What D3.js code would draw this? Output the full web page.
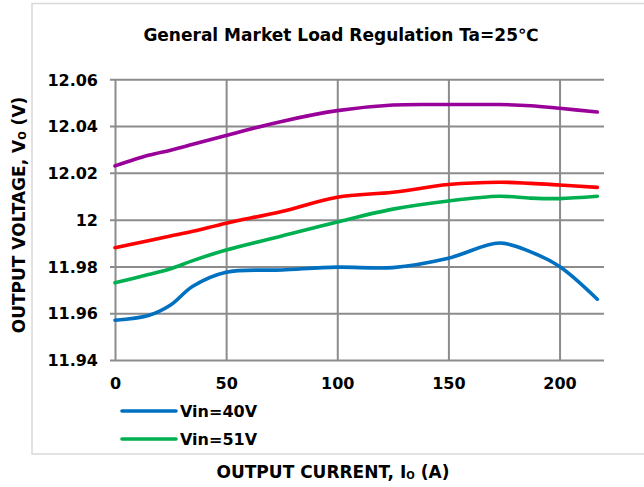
<!DOCTYPE html>
<html>
<head>
<meta charset="utf-8">
<script src="https://cdn.jsdelivr.net/npm/d3@7"></script>
<style>
  body { margin: 0; background: #fff; }
  svg text { font-family: "DejaVu Sans", sans-serif; font-weight: bold; fill: #000; }
</style>
</head>
<body>
<script>
// load regulation readings, output current in A
const currents = [0, 15, 25, 35, 50, 75, 100, 125, 150, 173, 187, 200, 217];

const vin40 = [11.957, 11.959, 11.9635, 11.9715, 11.9775, 11.9785, 11.9797, 11.9795, 11.9835, 11.990, 11.9862, 11.980, 11.966];
const vin51 = [11.973, 11.9765, 11.979, 11.9825, 11.987, 11.993, 11.999, 12.0045, 12.008, 12.010, 12.0092, 12.009, 12.010];
const vinC = [11.988, 11.991, 11.993, 11.995, 11.9985, 12.0035, 12.0096, 12.0117, 12.015, 12.016, 12.0155, 12.0148, 12.0138];
const vinD = [12.023, 12.0275, 12.0297, 12.0322, 12.036, 12.042, 12.0466, 12.049, 12.0492, 12.0492, 12.0487, 12.0476, 12.046];

const xTicks = [0, 50, 100, 150, 200];
const yTicks = [11.94, 11.96, 11.98, 12, 12.02, 12.04, 12.06];

const series = [
  { name: "Vin=40V", values: vin40, color: "#0070c0", legend: true },
  { name: "Vin=51V", values: vin51, color: "#00b050", legend: true },
  { name: "Vin=C", values: vinC, color: "#ff0000", legend: false },
  { name: "Vin=D", values: vinD, color: "#990099", legend: false }
];

var width = 644,
    height = 487;

const svg = d3.select("body").append("svg")
        .attr("width", width)
        .attr("height", height);

// outer frame (right edge runs off the picture)
svg.append("rect")
  .attr("x", 32).attr("y", 3.5)
  .attr("width", 640).attr("height", 450.5)
  .attr("fill", "none")
  .attr("stroke", "#d9d9d9")
  .attr("stroke-width", 1.5);

const x = d3.scaleLinear().domain([0, 220]).range([115, 604]);
const y = d3.scaleLinear().domain([11.94, 12.06]).range([360, 79.3]);

// horizontal grid + y labels
const yAxis = svg.append("g")
  .attr("transform", "translate(115,0)")
  .call(d3.axisLeft(y).tickValues(yTicks).tickSize(-(604 - 115)).tickSizeOuter(0)
    .tickPadding(17).tickFormat(d => d3.format("")(+d.toFixed(2))));
yAxis.select(".domain").remove();
yAxis.selectAll(".tick line").attr("x1", -5).attr("stroke", "#8c8c8c").attr("stroke-width", 2);
yAxis.selectAll(".tick text").attr("font-size", 16).attr("dy", "0.36em")
  .attr("font-family", "DejaVu Sans").attr("fill", "#000");

// vertical grid + x labels
const xAxis = svg.append("g")
  .attr("transform", "translate(0,360)")
  .call(d3.axisBottom(x).tickValues(xTicks).tickSize(-(360 - 79.3)).tickSizeOuter(0).tickPadding(18));
xAxis.select(".domain").remove();
xAxis.selectAll(".tick line").attr("stroke", "#8c8c8c").attr("stroke-width", 2);
xAxis.selectAll(".tick text").attr("font-size", 16).attr("font-family", "DejaVu Sans").attr("fill", "#000");

const line = d3.line()
  .x((d, i) => x(currents[i]))
  .y(d => y(d))
  .curve(d3.curveCatmullRom.alpha(0.5));

svg.selectAll("path.series")
  .data(series).enter()
  .append("path")
  .attr("class", "series")
  .attr("d", d => line(d.values))
  .attr("fill", "none")
  .attr("stroke", d => d.color)
  .attr("stroke-width", 3.6)
  .attr("stroke-linecap", "round");

// title
svg.append("text")
  .attr("x", 341).attr("y", 41)
  .attr("text-anchor", "middle")
  .attr("font-size", 17)
  .text("General Market Load Regulation Ta=25℃");

// axis titles
const xt = svg.append("text")
  .attr("x", 333).attr("y", 478)
  .attr("text-anchor", "middle")
  .attr("font-size", 17);
xt.append("tspan").text("OUTPUT CURRENT, I");
xt.append("tspan").attr("font-size", 10).attr("dy", 1).text("O");
xt.append("tspan").attr("dy", -1).text(" (A)");

const yt = svg.append("text")
  .attr("transform", "translate(25,215) rotate(-90)")
  .attr("text-anchor", "middle")
  .attr("font-size", 17);
yt.append("tspan").text("OUTPUT VOLTAGE, V");
yt.append("tspan").attr("font-size", 10).attr("dy", 1).text("O");
yt.append("tspan").attr("dy", -1).text(" (V)");

// legend (only first two series shown)
const leg = svg.selectAll("g.legend")
  .data(series.filter(s => s.legend)).enter()
  .append("g")
  .attr("class", "legend")
  .attr("transform", (d, i) => `translate(122,${411 + i * 28})`);
leg.append("line")
  .attr("x1", 0).attr("x2", 54)
  .attr("stroke", d => d.color)
  .attr("stroke-width", 3.6)
  .attr("stroke-linecap", "round");
leg.append("text")
  .attr("x", 58).attr("y", 6)
  .attr("font-size", 16)
  .text(d => d.name);
</script>
</body>
</html>
